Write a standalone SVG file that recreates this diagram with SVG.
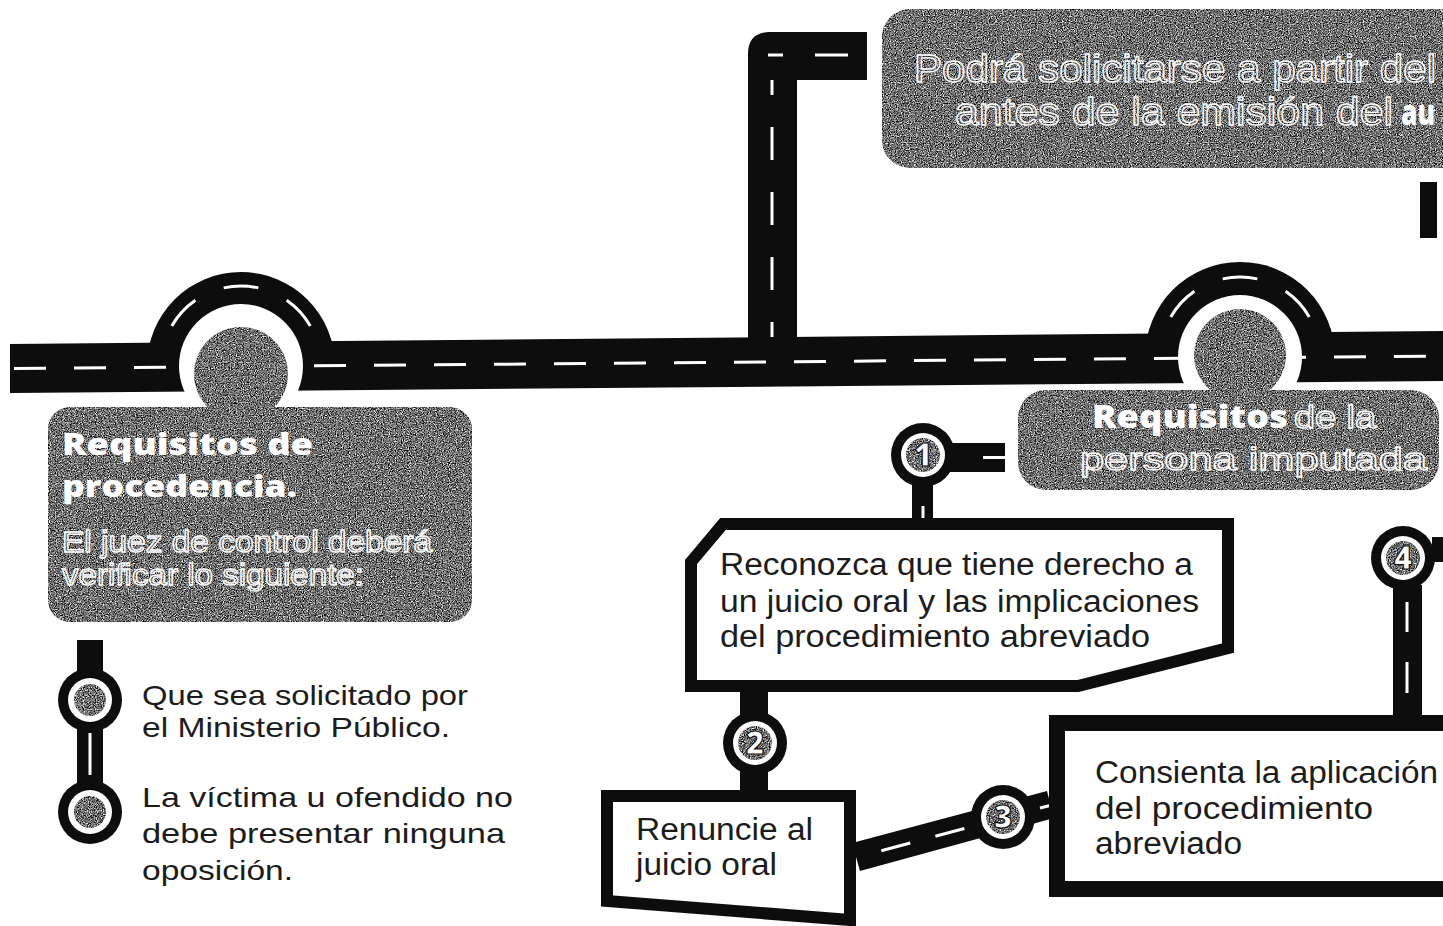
<svg xmlns="http://www.w3.org/2000/svg" width="1443" height="926" viewBox="0 0 1443 926">
<style>
.road{fill:#0d0d0d}
.dash{fill:none;stroke:#fff;stroke-width:3}
.gray{fill:#808080;filter:url(#grain)}
.ol{fill:none;stroke:#fff;stroke-width:1.3;font-family:"Liberation Sans",Arial,sans-serif}
.bw{fill:#fff;font-family:"Open Sans","Noto Sans",sans-serif;font-weight:800}
.body{fill:#1c1c1c;font-family:"Liberation Sans",Arial,sans-serif}
.num{fill:#fff;stroke:#111;stroke-width:1.2;font-family:"Open Sans","Noto Sans",sans-serif;font-weight:800;font-size:31px;text-anchor:middle}
.box{fill:#fff;stroke:#0d0d0d;stroke-linejoin:miter}
</style>
<defs>
<filter id="grain" x="0" y="0" width="100%" height="100%" color-interpolation-filters="sRGB">
<feTurbulence type="fractalNoise" baseFrequency="0.85" numOctaves="2" seed="7" result="t"/>
<feColorMatrix in="t" type="matrix" values="0.33 0.33 0.33 0 0 0.33 0.33 0.33 0 0 0.33 0.33 0.33 0 0 0 0 0 0 1" result="g"/>
<feComponentTransfer in="g" result="c">
<feFuncR type="linear" slope="3.4" intercept="-1.25"/>
<feFuncG type="linear" slope="3.4" intercept="-1.25"/>
<feFuncB type="linear" slope="3.4" intercept="-1.25"/>
</feComponentTransfer>
<feComposite in="c" in2="SourceGraphic" operator="in"/>
</filter>
<g id="stop">
<circle r="32" fill="#0d0d0d"/>
<circle r="22" fill="#fff"/>
</g>
</defs>
<rect width="1443" height="926" fill="#fff"/>

<g id="connectors">
<path class="road" d="M147 366 A94 94 0 0 1 335 366 Z"/>
<path class="road" d="M1145 357 A95 95 0 0 1 1335 357 Z"/>
<polygon class="road" points="10,344 1443,331 1443,381 10,393"/>
<line class="dash" x1="12" y1="368.5" x2="1443" y2="356" stroke-dasharray="32 28" stroke-dashoffset="-2"/>
<path class="road" d="M748 340 V54 Q748 32 770 32 H867 V80 H797 V340 Z"/>
<path class="dash" d="M772 337 V80" stroke-dasharray="15 32 33 32 33 32 33 32 15 40"/>
<path class="dash" d="M768 55 H783 M815 55 H848"/>
<circle cx="241" cy="366" r="62" fill="#fff"/>
<circle cx="1240" cy="357" r="62" fill="#fff"/>
<path class="dash" d="M161 366 A80 80 0 0 1 321 366" stroke-dasharray="0 42 35 31 35 31 35 200"/>
<path class="dash" d="M1160 357 A80 80 0 0 1 1320 357" stroke-dasharray="0 42 35 31 35 31 35 200"/>
<rect class="road" x="77" y="640" width="26" height="172"/>
<line class="dash" x1="90" y1="733" x2="90" y2="775"/>
<rect class="road" x="950" y="443" width="55" height="29"/>
<line class="dash" x1="983" y1="457.5" x2="1005" y2="457.5"/>
<rect class="road" x="912" y="480" width="21" height="42"/>
<line class="dash" x1="923" y1="506" x2="923" y2="522"/>
<rect class="road" x="740" y="690" width="28" height="102"/>
<polygon class="road" points="852,843 1047,791 1054,818 860,871"/>
<line class="dash" x1="862" y1="856" x2="1052" y2="805" stroke-dasharray="0 20 30 26 30 200"/>
<line class="dash" x1="1040" y1="808" x2="1052" y2="805"/>
<rect class="road" x="1393" y="585" width="29" height="132"/>
<line class="dash" x1="1407" y1="602" x2="1407" y2="632"/>
<line class="dash" x1="1407" y1="662" x2="1407" y2="693"/>
<rect class="road" x="1432" y="537" width="11" height="25"/>
</g>

<g id="circle-left">
<circle class="gray" cx="241" cy="374" r="47"/>
</g>
<g id="circle-right">
<circle class="gray" cx="1240" cy="355" r="46"/>
</g>

<g id="box-top">
<rect class="gray" x="882" y="9" width="620" height="159" rx="28"/>
<text class="ol" x="914" y="82" font-size="38" textLength="522" lengthAdjust="spacingAndGlyphs">Podrá solicitarse a partir del</text>
<text class="ol" x="955" y="125" font-size="38" textLength="438" lengthAdjust="spacingAndGlyphs">antes de la emisión del</text>
<text class="bw" x="1401" y="125" font-size="36" textLength="34" lengthAdjust="spacingAndGlyphs">au</text>
</g>
<rect id="title-bar" x="1420" y="182" width="17" height="56" fill="#0d0d0d"/>

<g id="box-procedencia">
<rect class="gray" x="48" y="407" width="424" height="215" rx="22"/>
<text class="bw" x="62" y="455" font-size="30" textLength="251" lengthAdjust="spacingAndGlyphs">Requisitos de</text>
<text class="bw" x="62" y="497" font-size="30" textLength="235" lengthAdjust="spacingAndGlyphs">procedencia.</text>
<text class="ol" x="62" y="552" font-size="29" textLength="370" lengthAdjust="spacingAndGlyphs">El juez de control deberá</text>
<text class="ol" x="62" y="585" font-size="29" textLength="302" lengthAdjust="spacingAndGlyphs">verificar lo siguiente:</text>
</g>

<g id="item-ministerio">
<use href="#stop" x="90" y="700"/>
<circle class="gray" cx="90" cy="700" r="16"/>
<text class="body" x="142" y="705" font-size="28.5" textLength="326" lengthAdjust="spacingAndGlyphs">Que sea solicitado por</text>
<text class="body" x="142" y="737" font-size="28.5" textLength="308" lengthAdjust="spacingAndGlyphs">el Ministerio Público.</text>
</g>
<g id="item-victima">
<use href="#stop" x="90" y="812"/>
<circle class="gray" cx="90" cy="812" r="16"/>
<text class="body" x="142" y="807" font-size="28.5" textLength="371" lengthAdjust="spacingAndGlyphs">La víctima u ofendido no</text>
<text class="body" x="142" y="843" font-size="28.5" textLength="363" lengthAdjust="spacingAndGlyphs">debe presentar ninguna</text>
<text class="body" x="142" y="880" font-size="28.5" textLength="151" lengthAdjust="spacingAndGlyphs">oposición.</text>
</g>

<g id="box-imputada">
<rect class="gray" x="1018" y="390" width="421" height="100" rx="28"/>
<text class="bw" x="1092" y="428" font-size="31" textLength="196" lengthAdjust="spacingAndGlyphs">Requisitos</text>
<text class="ol" x="1294" y="428" font-size="31" textLength="82" lengthAdjust="spacingAndGlyphs">de la</text>
<text class="ol" x="1080" y="470" font-size="31" textLength="347" lengthAdjust="spacingAndGlyphs">persona imputada</text>
</g>

<g id="stop-1">
<use href="#stop" x="923" y="455"/>
<circle class="gray" cx="923" cy="455" r="17"/>
<text class="num" x="923" y="466">1</text>
</g>

<g id="box-reconozca">
<polygon class="box" stroke-width="12" points="691,562 723,524 1228,524 1228,648 1078,686 691,686"/>
<text class="body" x="720" y="575" font-size="31" textLength="473" lengthAdjust="spacingAndGlyphs">Reconozca que tiene derecho a</text>
<text class="body" x="720" y="612" font-size="31" textLength="479" lengthAdjust="spacingAndGlyphs">un juicio oral y las implicaciones</text>
<text class="body" x="720" y="647" font-size="31" textLength="430" lengthAdjust="spacingAndGlyphs">del procedimiento abreviado</text>
</g>

<g id="stop-2">
<use href="#stop" x="755" y="743"/>
<circle class="gray" cx="755" cy="743" r="17"/>
<text class="num" x="755" y="754">2</text>
</g>

<g id="box-renuncie">
<polygon class="box" stroke-width="12" points="607,796 850,796 850,920 607,901"/>
<text class="body" x="636" y="840" font-size="31" textLength="177" lengthAdjust="spacingAndGlyphs">Renuncie al</text>
<text class="body" x="636" y="875" font-size="31" textLength="141" lengthAdjust="spacingAndGlyphs">juicio oral</text>
</g>

<g id="stop-3">
<use href="#stop" x="1003" y="817"/>
<circle class="gray" cx="1003" cy="817" r="17"/>
<text class="num" x="1003" y="828">3</text>
</g>

<g id="box-consienta">
<rect class="box" stroke-width="16" x="1057" y="723" width="420" height="166"/>
<text class="body" x="1095" y="783" font-size="31" textLength="343" lengthAdjust="spacingAndGlyphs">Consienta la aplicación</text>
<text class="body" x="1095" y="819" font-size="31" textLength="278" lengthAdjust="spacingAndGlyphs">del procedimiento</text>
<text class="body" x="1095" y="854" font-size="31" textLength="147" lengthAdjust="spacingAndGlyphs">abreviado</text>
</g>

<g id="stop-4">
<use href="#stop" x="1403" y="558"/>
<circle class="gray" cx="1403" cy="558" r="17"/>
<text class="num" x="1403" y="569">4</text>
</g>
</svg>
